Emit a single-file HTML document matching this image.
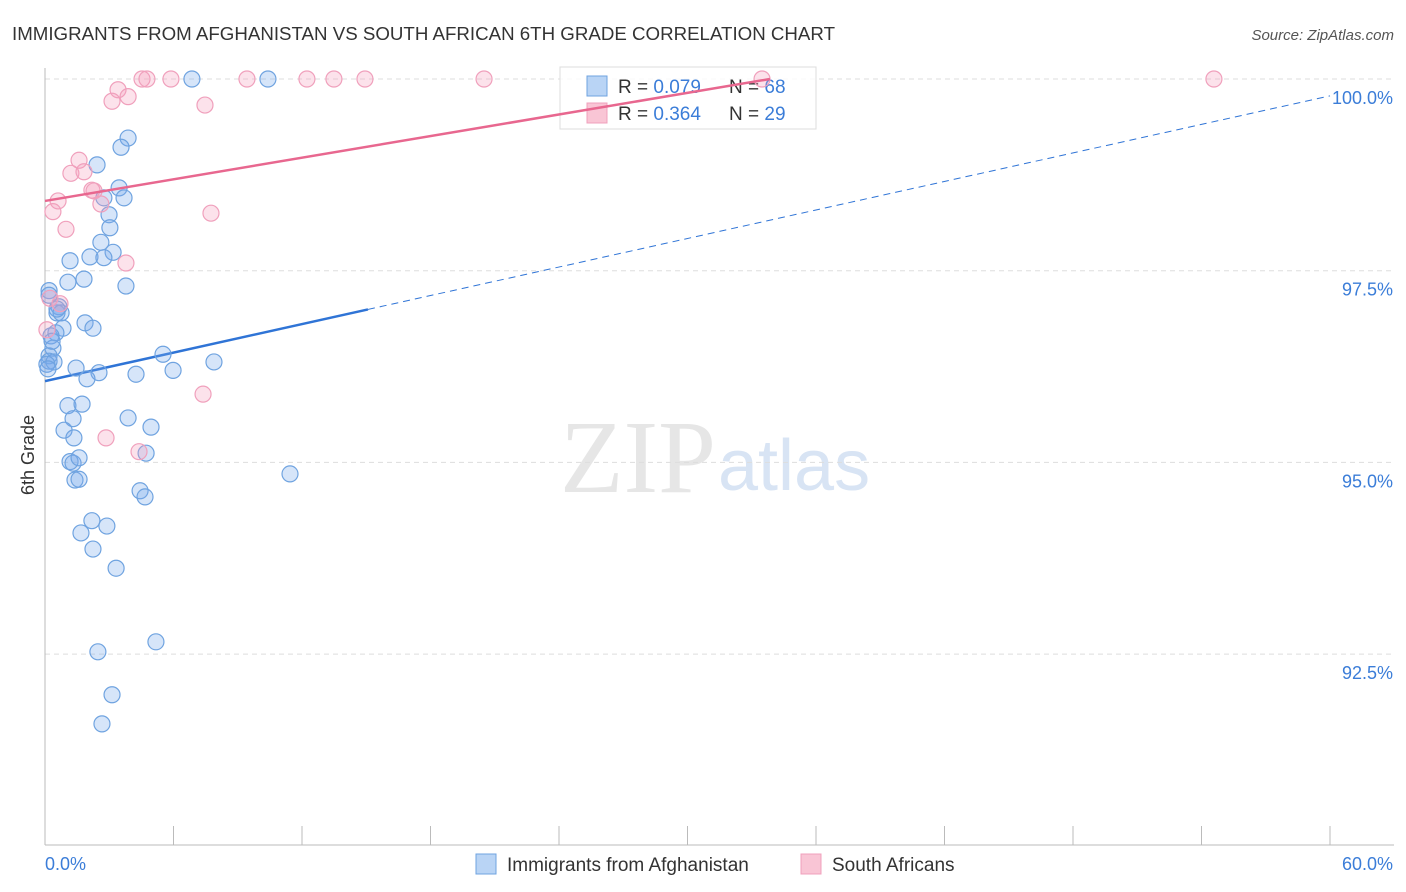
<!DOCTYPE html>
<html><head><meta charset="utf-8"><style>
body{margin:0;background:#fff;font-family:"Liberation Sans",sans-serif}
svg{display:block}
</style></head><body>
<svg id="chart" width="1406" height="892" xmlns="http://www.w3.org/2000/svg">
<text x="12" y="40" font-size="18" fill="#333" textLength="823" lengthAdjust="spacingAndGlyphs">IMMIGRANTS FROM AFGHANISTAN VS SOUTH AFRICAN 6TH GRADE CORRELATION CHART</text>
<text x="1394" y="40" font-size="15" fill="#555" font-style="italic" text-anchor="end">Source: ZipAtlas.com</text>
<text x="716" y="492" font-size="104" fill="#e6e6e6" font-family="Liberation Serif" text-anchor="end">ZIP</text>
<text x="718" y="490" font-size="72" fill="#d8e4f4">atlas</text>
<text transform="translate(34,455) rotate(-90)" font-size="18" fill="#333" text-anchor="middle">6th Grade</text>
<g id="grid"></g><g id="axes"></g>
<g>
<rect x="560" y="67" width="256" height="62" fill="#fff" fill-opacity="0.85" stroke="#ddd"/>
<rect x="587" y="76" width="20" height="20" fill="#b9d4f5" stroke="#6fa3e0"/>
<rect x="587" y="103" width="20" height="20" fill="#f9c5d5" stroke="#f0a0bc"/>
<text x="618" y="93" font-size="19" fill="#333">R = <tspan fill="#3b7dd8">0.079</tspan></text>
<text x="729" y="93" font-size="19" fill="#333">N = <tspan fill="#3b7dd8">68</tspan></text>
<text x="618" y="120" font-size="19" fill="#333">R = <tspan fill="#3b7dd8">0.364</tspan></text>
<text x="729" y="120" font-size="19" fill="#333">N = <tspan fill="#3b7dd8">29</tspan></text>
</g>
<g id="trend"></g><g id="pts"></g>
<g>
<rect x="476" y="854" width="20" height="20" fill="#b9d4f5" stroke="#6fa3e0"/>
<text x="507" y="871" font-size="19" fill="#333">Immigrants from Afghanistan</text>
<rect x="801" y="854" width="20" height="20" fill="#f9c5d5" stroke="#f0a0bc"/>
<text x="832" y="871" font-size="19" fill="#333">South Africans</text>
</g>
</svg>
<script>
const blueX=[6.86,10.41,3.88,3.55,2.43,3.46,3.69,2.75,2.99,3.03,2.61,3.18,2.10,2.75,1.17,1.82,1.07,3.78,0.19,0.65,0.56,0.75,1.87,2.24,0.84,0.51,0.28,0.37,0.19,0.19,0.42,5.51,7.89,5.98,4.25,1.45,2.52,1.96,1.07,1.73,1.31,3.88,0.89,4.95,1.35,4.72,1.17,1.31,1.59,11.44,1.40,1.59,4.44,4.67,2.19,2.89,1.68,2.24,3.32,5.18,2.47,3.13,2.66,0.19,0.09,0.33,0.56,0.14];
const blueY=[100,100,99.23,99.11,98.88,98.58,98.45,98.45,98.23,98.06,97.87,97.74,97.68,97.67,97.63,97.39,97.35,97.30,97.24,97.03,96.95,96.95,96.82,96.75,96.75,96.69,96.65,96.49,96.39,96.32,96.31,96.41,96.31,96.20,96.15,96.23,96.17,96.09,95.74,95.76,95.57,95.58,95.42,95.46,95.32,95.12,95.01,94.99,95.06,94.85,94.77,94.78,94.63,94.55,94.24,94.17,94.08,93.87,93.62,92.66,92.53,91.97,91.59,97.18,96.28,96.58,97.00,96.22];
const pinkX=[4.53,4.76,5.88,9.43,12.23,13.49,14.94,20.50,33.48,54.58,3.41,3.88,3.13,7.47,1.59,1.21,1.82,2.19,2.29,2.61,0.61,0.37,0.98,7.75,3.78,0.23,0.70,7.38,2.85,4.39,0.09];
const pinkY=[100,100,100,100,100,100,100,100,100,100,99.86,99.77,99.71,99.66,98.94,98.77,98.79,98.55,98.54,98.37,98.41,98.27,98.04,98.25,97.60,97.14,97.07,95.89,95.32,95.14,96.73];
const yTicks=[100,97.5,95,92.5];
const yTickLabels=["100.0%","97.5%","95.0%","92.5%"];
const blueTrend=[96.06,99.78];
const pinkTrend=[98.41,100];
const pinkTrendEnd=33.85, blueSolidEnd=15.08;
const xs=v=>45+v*(1285/60), ys=v=>79+(100-v)*76.68;
const NS="http://www.w3.org/2000/svg";
function mk(p,t,a){const e=document.createElementNS(NS,t);for(const k in a)e.setAttribute(k,a[k]);document.getElementById(p).appendChild(e);return e;}
yTicks.forEach((t,i)=>{
 const l=mk('grid','line',{x1:45,x2:1394,y1:ys(t),y2:ys(t),stroke:'#ddd','stroke-dasharray':'5,4'});
 
 
 const tx=mk('grid','text',{x:1393,y:ys(t)+25,'font-size':18,fill:'#3b7dd8','text-anchor':'end'});
 tx.textContent=yTickLabels[i];
 
 
});
mk('axes','line',{x1:45,x2:45,y1:68,y2:845,stroke:'#bbb'});
mk('axes','line',{x1:45,x2:1394,y1:845,y2:845,stroke:'#bbb'});
for(let i=0;i<=10;i++){const t=mk('axes','line',{x1:xs(i*6),x2:xs(i*6),y1:826,y2:845,stroke:'#bbb'});
 
 }
const x0=mk('axes','text',{x:45,y:870,'font-size':18,fill:'#3b7dd8'});x0.textContent='0.0%';


const x1=mk('axes','text',{x:1393,y:870,'font-size':18,fill:'#3b7dd8','text-anchor':'end'});x1.textContent='60.0%';


const bAt=v=>blueTrend[0]+(blueTrend[1]-blueTrend[0])*v/60;
const bl=mk('trend','line',{x1:xs(0),y1:ys(bAt(0)),x2:xs(blueSolidEnd),y2:ys(bAt(blueSolidEnd)),stroke:'#2f74d6','stroke-width':2.5});


const bd=mk('trend','line',{x1:xs(blueSolidEnd),y1:ys(bAt(blueSolidEnd)),x2:xs(60),y2:ys(bAt(60)),stroke:'#2f74d6','stroke-width':1,'stroke-dasharray':'7,5'});


blueX.forEach((x,i)=>{const c=mk('pts','circle',{cx:xs(x),cy:ys(blueY[i]),r:8,fill:'rgba(120,170,235,0.3)',stroke:'#6fa3e0','stroke-width':1.2});
 
 });
pinkX.forEach((x,i)=>{const c=mk('pts','circle',{cx:xs(x),cy:ys(pinkY[i]),r:8,fill:'rgba(245,160,190,0.3)',stroke:'#f0a0bc','stroke-width':1.2});
 
 });
const pl=mk('pts','line',{x1:xs(0),y1:ys(pinkTrend[0]),x2:xs(pinkTrendEnd),y2:ys(pinkTrend[1]),stroke:'#e8678f','stroke-width':2.5});


</script>
</body></html>
